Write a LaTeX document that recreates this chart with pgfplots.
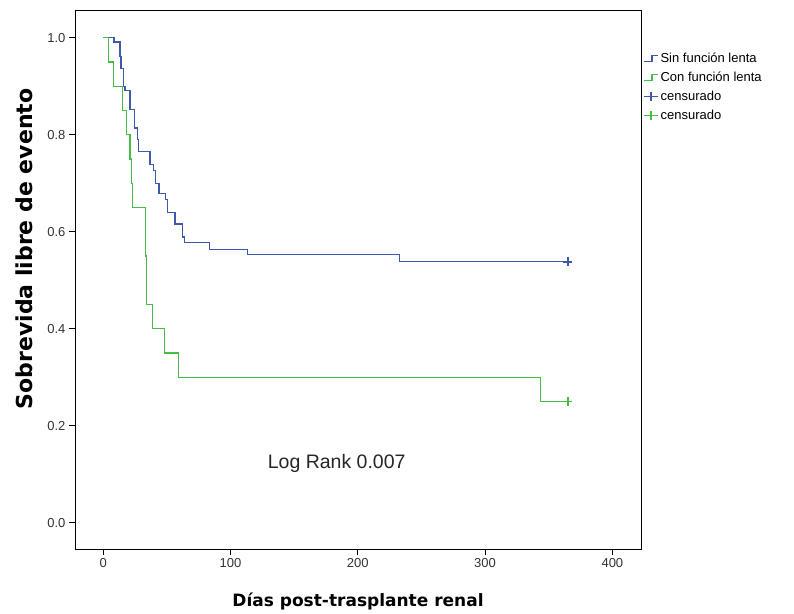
\documentclass[border=0pt]{standalone}
\usepackage{pgfplots}
\pgfplotsset{compat=1.18}
\usepackage{fontspec}
\setmainfont{Liberation Sans}
\newfontfamily\labfont{DejaVu Sans}
\definecolor{kmblue}{RGB}{62,88,172}
\definecolor{kmgreen}{RGB}{70,190,70}
\pgfplotsset{
  stepblue/.style={legend image code/.code={\draw[kmblue, line width=1.1pt] (0pt,-3pt) -- (8pt,-3pt) -- (8pt,2.5pt) -- (14pt,2.5pt);}},
  stepgreen/.style={legend image code/.code={\draw[kmgreen, line width=1.1pt] (0pt,-3pt) -- (8pt,-3pt) -- (8pt,2.5pt) -- (14pt,2.5pt);}},
  censblue/.style={legend image code/.code={\draw[kmblue, line width=1.1pt] (0pt,0pt) -- (14pt,0pt); \draw[kmblue, line width=1.3pt] (7pt,-4.5pt) -- (7pt,4.5pt);}},
  censgreen/.style={legend image code/.code={\draw[kmgreen, line width=1.1pt] (0pt,0pt) -- (14pt,0pt); \draw[kmgreen, line width=1.3pt] (7pt,-4.5pt) -- (7pt,4.5pt);}},
}
\begin{document}
\begin{tikzpicture}
\useasboundingbox (0pt,0pt) rectangle (794pt,613pt);
\begin{axis}[
  at={(75pt,63.7pt)}, anchor=south west,
  scale only axis, width=566pt, height=538.6pt,
  xmin=-22.2, xmax=422.5, ymin=-0.0548, ymax=1.0557,
  xtick={0,100,200,300,400},
  ytick={0,0.2,0.4,0.6,0.8,1.0},
  yticklabel style={/pgf/number format/.cd, fixed, fixed zerofill, precision=1},
  /pgf/number format/assume math mode=true,
  tick label style={font=\fontsize{13}{15}\selectfont, text=black!80},
  tick align=outside, major tick length=6pt,
  xtick pos=bottom, ytick pos=left,
  tick style={black, line width=1pt},
  axis line style={black, line width=1pt},
  xlabel={\labfont\bfseries\fontsize{17}{20}\selectfont Días post-trasplante renal},
  ylabel={\labfont\bfseries\fontsize{22}{25}\selectfont Sobrevida libre de evento},
  xlabel style={at={(axis description cs:0.5,-0.096)}, anchor=center},
  ylabel style={at={(axis description cs:-0.0901,0.5576)}, anchor=center},
  legend style={at={(1.004,0.926)}, anchor=north west, draw=none, fill=none,
    font=\fontsize{13}{15}\selectfont, row sep=4pt, inner xsep=0pt, inner ysep=0pt},
  legend cell align=left,
  clip=false,
]
\addplot[const plot, kmblue, line width=1.2pt, stepblue]
coordinates {
(0,1.0) (8.5,0.991) (13.2,0.962) (14,0.936) (15.8,0.90) (17.1,0.891) (21,0.852)
(24.5,0.814) (27,0.79) (27.6,0.766) (36.8,0.738) (39.4,0.726) (41.2,0.70)
(43.8,0.678) (48.6,0.666) (50.7,0.64) (56.4,0.616) (62.2,0.589) (63.8,0.577)
(83.4,0.564) (113.5,0.553) (232.5,0.538) (365,0.538)};
\addlegendentry{Sin función lenta}
\addplot[const plot, kmgreen, line width=1.2pt, stepgreen]
coordinates {
(0,1.0) (4,0.95) (8,0.90) (15,0.85) (18,0.80) (21,0.75) (22,0.70) (23,0.65)
(33.5,0.55) (34,0.45) (39,0.40) (48,0.35) (59.3,0.30) (343.8,0.25) (365,0.25)};
\addlegendentry{Con función lenta}
\addplot[only marks, mark=+, mark size=4.5pt, kmblue, line width=1.8pt, censblue]
coordinates {(365,0.538)};
\addlegendentry{censurado}
\addplot[only marks, mark=+, mark size=4.5pt, kmgreen, line width=1.8pt, censgreen]
coordinates {(365,0.25)};
\addlegendentry{censurado}
\node[font=\fontsize{19.5}{22}\selectfont, text=black!85] at (axis cs:183.4,0.123) {Log Rank 0.007};
\end{axis}
\end{tikzpicture}
\end{document}
